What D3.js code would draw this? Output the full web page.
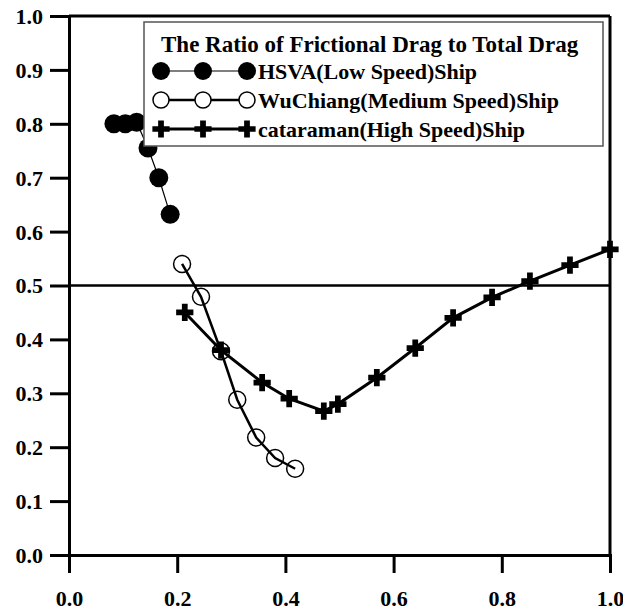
<!DOCTYPE html>
<html>
<head>
<meta charset="utf-8">
<script src="https://cdn.jsdelivr.net/npm/d3@7"></script>
<style>
  body { margin: 0; background: #fff; }
  svg text { font-family: "Liberation Serif", "Times New Roman", serif; font-weight: bold; fill: #000; }
</style>
</head>
<body>
<svg width="623" height="613"></svg>
<script>
// donnees
const hsvaX = [0.083, 0.104, 0.125, 0.146, 0.166, 0.187];
const hsvaY = [0.800, 0.800, 0.803, 0.755, 0.700, 0.632];

const wuX = [0.209, 0.244, 0.281, 0.311, 0.346, 0.381, 0.418];
const wuY = [0.540, 0.479, 0.378, 0.288, 0.218, 0.180, 0.160];

const catX = [0.214, 0.281, 0.357, 0.407, 0.471, 0.497, 0.569, 0.640, 0.710, 0.782, 0.852, 0.926, 1.0];
const catY = [0.450, 0.380, 0.320, 0.290, 0.267, 0.280, 0.329, 0.384, 0.440, 0.478, 0.508, 0.538, 0.567];

const xTicks = [0, 0.2, 0.4, 0.6, 0.8, 1.0];
const yTicks = [0, 0.1, 0.2, 0.3, 0.4, 0.5, 0.6, 0.7, 0.8, 0.9, 1.0];
const refLine = 0.5;

const legendTitle = "The Ratio of Frictional Drag to Total Drag";
const seriesNames = ["HSVA(Low Speed)Ship", "WuChiang(Medium Speed)Ship", "cataraman(High Speed)Ship"];

/*----------- dimensions ----------- */
const margin = { top: 16, right: 13, bottom: 58, left: 69 };
const width = 623 - margin.left - margin.right;
const height = 613 - margin.top - margin.bottom;

const x = d3.scaleLinear().domain([0, 1]).range([0, width]);
const y = d3.scaleLinear().domain([0, 1]).range([height, 0]);

const svg = d3.select("svg");
const chart = svg.append("g")
  .attr("transform", "translate(" + margin.left + "," + margin.top + ")");

// cadre haut et droite
chart.append("line").attr("x1", 0).attr("x2", width).attr("y1", 0).attr("y2", 0)
  .attr("stroke", "#000").attr("stroke-width", 3);
chart.append("line").attr("x1", width).attr("x2", width).attr("y1", 0).attr("y2", height)
  .attr("stroke", "#000").attr("stroke-width", 3);

// axes
const yAxis = d3.axisLeft(y).tickValues(yTicks).tickSize(19).tickPadding(7)
  .tickFormat(d3.format(".1f"));
const xAxis = d3.axisBottom(x).tickValues(xTicks).tickSize(18).tickPadding(14)
  .tickFormat(d3.format(".1f"));

const gy = chart.append("g").call(yAxis);
const gx = chart.append("g").attr("transform", "translate(0," + height + ")").call(xAxis);

[gy, gx].forEach((g) => {
  g.select(".domain").attr("stroke-width", 3).attr("stroke", "#000");
  g.selectAll(".tick line").attr("stroke-width", 3).attr("stroke", "#000");
  g.selectAll(".tick text")
    .attr("font-size", 22)
    .attr("fill", "#000");
});
gy.selectAll(".tick text").attr("dy", "0.34em");
gx.selectAll(".tick text").attr("dy", "0.85em");

// ligne 0.5
chart.append("line")
  .attr("x1", 0).attr("x2", width)
  .attr("y1", y(refLine)).attr("y2", y(refLine))
  .attr("stroke", "#000").attr("stroke-width", 2.5);

const line = d3.line().x((d) => x(d[0])).y((d) => y(d[1]));
const plus = d3.symbol().type(d3.symbolCross).size(165);

const hsva = hsvaX.map((v, i) => [v, hsvaY[i]]);
const wu = wuX.map((v, i) => [v, wuY[i]]);
const cat = catX.map((v, i) => [v, catY[i]]);

// courbes
chart.append("path").datum(hsva).attr("d", line)
  .attr("fill", "none").attr("stroke", "#000").attr("stroke-width", 1.2);
chart.append("path").datum(wu).attr("d", line)
  .attr("fill", "none").attr("stroke", "#000").attr("stroke-width", 2.5);
chart.append("path").datum(cat).attr("d", line)
  .attr("fill", "none").attr("stroke", "#000").attr("stroke-width", 3);

// marqueurs
chart.selectAll(".hsva").data(hsva).enter().append("circle")
  .attr("cx", (d) => x(d[0])).attr("cy", (d) => y(d[1])).attr("r", 9.5)
  .attr("fill", "#000");
chart.selectAll(".wu").data(wu).enter().append("circle")
  .attr("cx", (d) => x(d[0])).attr("cy", (d) => y(d[1])).attr("r", 8.5)
  .attr("fill", "none").attr("stroke", "#000").attr("stroke-width", 1.5);
chart.selectAll(".cat").data(cat).enter().append("path")
  .attr("d", plus)
  .attr("transform", (d) => "translate(" + x(d[0]) + "," + y(d[1]) + ")")
  .attr("fill", "#000");

/*----------- legende ----------- */
const leg = svg.append("g").attr("transform", "translate(144,22)");
leg.append("rect").attr("width", 459).attr("height", 124)
  .attr("fill", "#fff").attr("stroke", "#555").attr("stroke-width", 1.5);
leg.append("text").attr("x", 17).attr("y", 30).attr("font-size", 23).text(legendTitle);

const rows = [49, 78, 107];
const mx = [17, 59, 103];
seriesNames.forEach((name, i) => {
  const g = leg.append("g").attr("transform", "translate(0," + rows[i] + ")");
  g.append("line").attr("x1", mx[0]).attr("x2", mx[2]).attr("y1", 0).attr("y2", 0)
    .attr("stroke", "#000").attr("stroke-width", i === 0 ? 1.2 : (i === 1 ? 2.5 : 3));
  mx.forEach((m) => {
    if (i === 0) {
      g.append("circle").attr("cx", m).attr("cy", 0).attr("r", 9).attr("fill", "#000");
    } else if (i === 1) {
      g.append("circle").attr("cx", m).attr("cy", 0).attr("r", 8)
        .attr("fill", "#fff").attr("stroke", "#000").attr("stroke-width", 1.5);
    } else {
      g.append("path").attr("d", plus).attr("transform", "translate(" + m + ",0)").attr("fill", "#000");
    }
  });
  g.append("text").attr("x", 114).attr("y", 8).attr("font-size", 22).text(name);
});
</script>
</body>
</html>
